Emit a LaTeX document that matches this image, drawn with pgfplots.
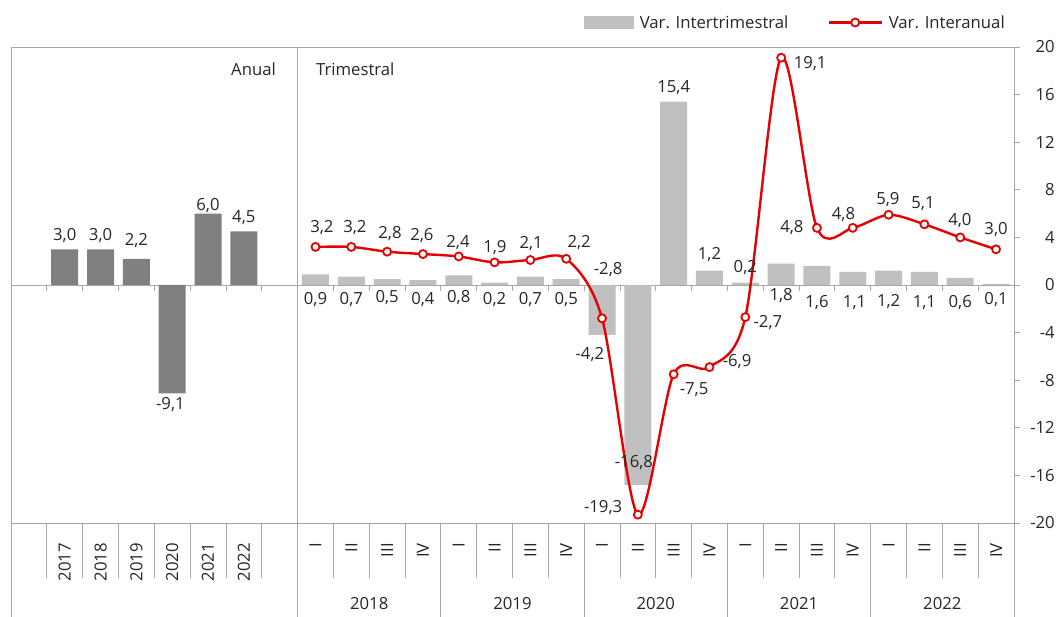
\documentclass[border=0pt]{standalone}
\usepackage{fontspec}
\setmainfont{Open Sans}
\usepackage{pgfplots}
\usepackage{pgfplotstable}
\pgfplotsset{compat=1.18}
\definecolor{darkbar}{HTML}{808080}
\definecolor{lightbar}{HTML}{C0C0C0}
\definecolor{ubsred}{HTML}{E60000}
\definecolor{axgray}{HTML}{A6A6A6}
\definecolor{txt}{HTML}{262626}
\newcommand\f{\fontsize{16.7}{20}\selectfont}

\pgfplotstableread{
x y
1 3.0
2 3.0
3 2.2
4 -9.1
5 6.0
6 4.5
}\annual

\pgfplotstableread{
x y
8 0.9
9 0.7
10 0.5
11 0.4
12 0.8
13 0.2
14 0.7
15 0.5
16 -4.2
17 -16.8
18 15.4
19 1.2
20 0.2
21 1.8
22 1.6
23 1.1
24 1.2
25 1.1
26 0.6
27 0.1
}\qbars

\pgfplotstableread{
x y
8 3.2
9 3.2
10 2.8
11 2.6
12 2.4
13 1.9
14 2.1
15 2.2
16 -2.8
17 -19.3
18 -7.5
19 -6.9
20 -2.7
21 19.1
22 4.8
23 4.8
24 5.9
25 5.1
26 4.0
27 3.0
}\qline

\pgfplotstableread{
x y lab
1 4.12 3,0
2 4.12 3,0
3 3.70 2,2
3.95 -10.08 -9,1
5 6.72 6,0
6 5.63 4,5
8 -1.26 0,9
9 -1.18 0,7
10 -1.09 0,5
11 -1.18 0,4
12 -1.09 0,8
13 -1.18 0,2
14 -1.18 0,7
15 -1.26 0,5
15.66 -5.88 -4,2
16.89 -14.96 -16,8
18 16.6 15,4
19 2.52 1,2
20 1.43 0,2
21 -0.92 1,8
22 -1.51 1,6
23.05 -1.51 1,1
24 -1.43 1,2
25 -1.51 1,1
26 -1.51 0,6
27 -1.26 0,1
8.18 4.87 3,2
9.10 4.87 3,2
10.08 4.29 2,8
10.97 4.12 2,6
11.98 3.61 2,4
13.01 3.11 1,9
14.02 3.45 2,1
15.36 3.53 2,2
16.17 1.26 -2,8
16.03 -18.66 -19,3
18.57 -8.82 -7,5
19.77 -6.47 -6,9
20.63 -3.19 -2,7
21.81 18.57 19,1
21.30 4.87 4,8
22.74 5.92 4,8
23.98 7.14 5,9
24.96 6.81 5,1
25.99 5.38 4,0
27.0 4.62 3,0
}\labels

\begin{document}
\begin{tikzpicture}
\path[use as bounding box] (-11pt,-94pt) rectangle (1049pt,523pt);
\begin{axis}[
  at={(0,0)}, anchor=south west,
  width=1003pt, height=476pt, scale only axis,
  xmin=-0.5, xmax=27.5, ymin=-20, ymax=20,
  enlargelimits=false, clip=false,
  axis line style={draw=none},
  font=\f,
  xtick={1,2,3,4,5,6,8,9,10,11,12,13,14,15,16,17,18,19,20,21,22,23,24,25,26,27},
  xticklabels={2017,2018,2019,2020,2021,2022,I,II,III,IV,I,II,III,IV,I,II,III,IV,I,II,III,IV,I,II,III,IV},
  xtick style={draw=none},
  xticklabel style={rotate=90, anchor=east, inner sep=0pt, font=\f, text=txt},
  xticklabel shift=14pt,
  ytick={-20,-16,-12,-8,-4,0,4,8,12,16,20},
  yticklabels={-20,-16,-12,-8,-4,0,4,8,12,16,20},
  ytick pos=right, yticklabel pos=right,
  tick align=outside, major tick length=6pt,
  ytick style={axgray, line width=0.8pt},
  yticklabel style={anchor=east, inner sep=0pt, xshift=35pt, font=\f, text=txt},
  legend columns=2,
  legend style={at={(axis description cs:0.991,1.0515)}, anchor=east, draw=none, fill=none,
    inner sep=0pt, nodes={inner sep=0pt, font=\f, text=txt},
    /tikz/every odd column/.append style={column sep=6pt},
    /tikz/every even column/.append style={column sep=39pt}},
]
% frame and separators
\draw[axgray, line width=0.8pt] (axis cs:-0.5,20) -- (axis cs:27.5,20);
\draw[axgray, line width=0.8pt] (axis cs:-0.5,0) -- (axis cs:27.5,0);
\draw[axgray, line width=0.8pt] (axis cs:-0.5,-20) -- (axis cs:27.5,-20);
\pgfplotsinvokeforeach{-0.5,7.5,11.5,15.5,19.5,23.5,27.5}{
  \draw[axgray, line width=0.8pt] (axis cs:#1,-27.95) -- (axis cs:#1,-20);
}
\draw[axgray, line width=0.8pt] (axis cs:-0.5,-20) -- (axis cs:-0.5,20);
\draw[axgray, line width=0.8pt] (axis cs:7.5,-20) -- (axis cs:7.5,20);
\draw[axgray, line width=0.8pt] (axis cs:27.5,-20) -- (axis cs:27.5,20);
\pgfplotsinvokeforeach{0.5,1.5,2.5,3.5,4.5,5.5,6.5,8.5,9.5,10.5,12.5,13.5,14.5,16.5,17.5,18.5,20.5,21.5,22.5,24.5,25.5,26.5}{
  \draw[axgray, line width=0.8pt] (axis cs:#1,-20) -- (axis cs:#1,-24.62);
}
\pgfplotsinvokeforeach{0.5,1.5,2.5,3.5,4.5,5.5,6.5,8.5,9.5,10.5,11.5,12.5,13.5,14.5,15.5,16.5,17.5,18.5,19.5,20.5,21.5,22.5,23.5,24.5,25.5,26.5}{
  \draw[axgray, line width=0.8pt] (axis cs:#1,0) -- (axis cs:#1,-0.5);
}
% bars
\addplot[ybar, bar width=27pt, bar shift=0pt, fill=darkbar, draw=none, forget plot] table[x=x,y=y] {\annual};
\addplot[ybar, bar width=27pt, bar shift=0pt, fill=lightbar, draw=none,
  legend image code/.code={\fill[lightbar] (0pt,-6.5pt) rectangle (50pt,6.5pt);}] table[x=x,y=y] {\qbars};
\addlegendentry{Var. Intertrimestral}
\addplot[ubsred, line width=2.4pt, smooth, mark=*, mark size=4pt,
  mark options={fill=white, draw=ubsred, line width=1.8pt},
  legend image code/.code={\draw[ubsred, line width=2.4pt] (0pt,0pt) -- (53pt,0pt);
    \draw[ubsred, fill=white, line width=1.8pt] (26.5pt,0pt) circle (4pt);}] table[x=x,y=y] {\qline};
\addlegendentry{Var. Interanual}
% value labels
\addplot[draw=none, forget plot, nodes near coords, point meta=explicit symbolic,
  every node near coord/.append style={anchor=center, inner sep=0pt, font=\f, text=txt}]
  table[x=x, y=y, meta=lab] {\labels};
% panel titles and year labels
\node[anchor=base east, inner sep=0pt, text=txt] at (rel axis cs:0.2642,0.941) {Anual};
\node[anchor=base west, inner sep=0pt, text=txt] at (rel axis cs:0.3041,0.941) {Trimestral};
\node[text=txt, inner sep=0pt] at (axis cs:9.5,-26.8) {2018};
\node[text=txt, inner sep=0pt] at (axis cs:13.5,-26.8) {2019};
\node[text=txt, inner sep=0pt] at (axis cs:17.5,-26.8) {2020};
\node[text=txt, inner sep=0pt] at (axis cs:21.5,-26.8) {2021};
\node[text=txt, inner sep=0pt] at (axis cs:25.5,-26.8) {2022};
\end{axis}
\end{tikzpicture}
\end{document}
